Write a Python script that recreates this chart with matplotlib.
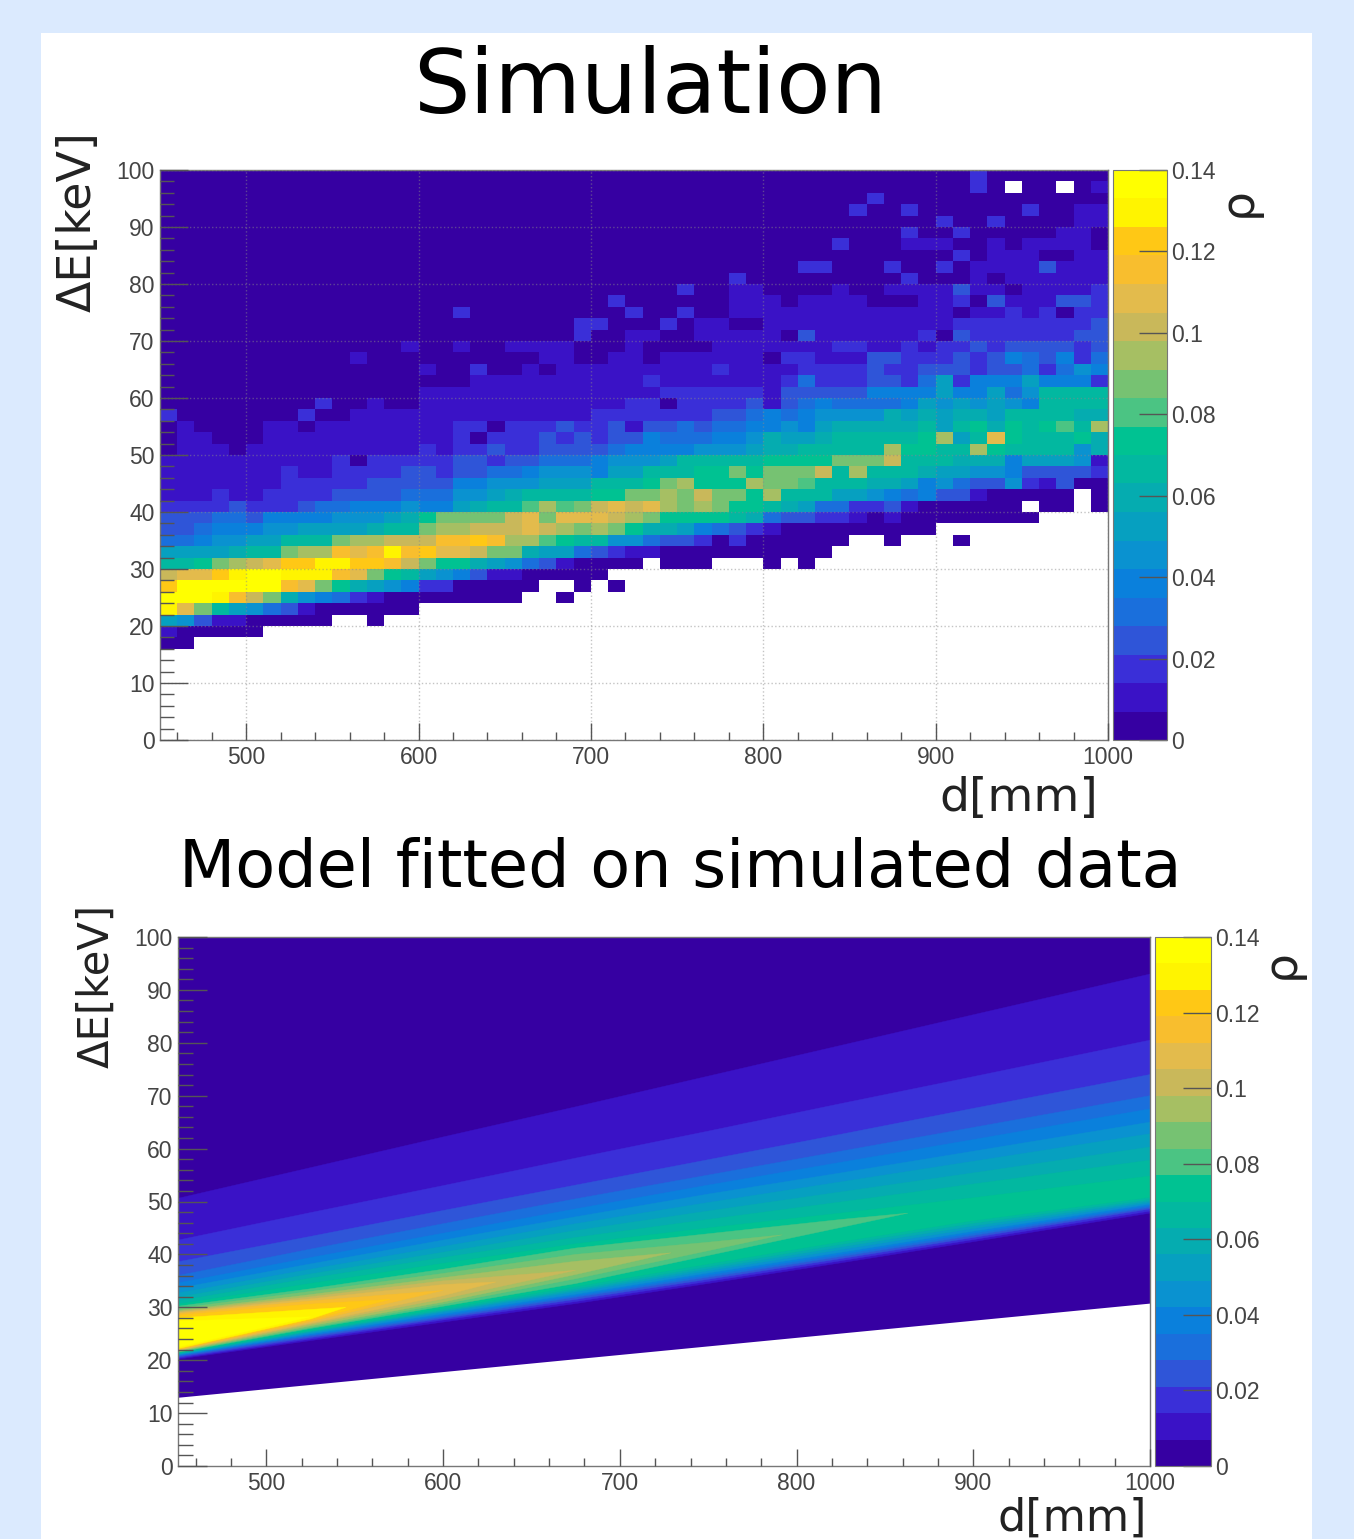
import numpy as np
import matplotlib
matplotlib.use("Agg")
import matplotlib.pyplot as plt
from matplotlib.colors import ListedColormap, Normalize
from matplotlib.patches import Rectangle
from matplotlib.ticker import MultipleLocator

W, H = 1354, 1539

# palette of the 20 colour bands, bottom to top
band_colors = ["#3600a2", "#3a12c6", "#3a2fd8", "#2f55d8", "#1a6fdc", "#0a80dc",
               "#0a92d0", "#06a0c0", "#05acb0", "#02b8a0", "#00c292", "#4bc483",
               "#76c272", "#a6bf63", "#c9b85a", "#e3bb4c", "#f8be2e", "#ffc815",
               "#fff400", "#ffff00"]
z_max = 0.14
cbar_ticks = [0, 0.02, 0.04, 0.06, 0.08, 0.1, 0.12, 0.14]
cbar_labels = ["0", "0.02", "0.04", "0.06", "0.08", "0.1", "0.12", "0.14"]

# simulation histogram: band index per bin, 55 columns (450-1000, 10 mm),
# rows from 100 keV down in 2 keV steps, "." is an empty bin
sim_rows = [
    "000000000000000000 000000000000000000 0000000000020000000",
    "000000000000000000 000000000000000000 00000000000 20.00.01",
    "000000000000000000 000000000000000000 0000020000000000000",
    "000000000000000000 000000000000000000 0000200200000020011",
    "000000000000000000 000000000000000000 0000000002002000011",
    "000000000000000000 000000000000000000 0000000200200000110",
    "000000000000000000 000000000000000000 0002000111001011110",
    "000000000000000000 000000000000000000 0000000000201110011",
    "000000000000000000 000000000000000000 0220002002011113111",
    "000000000000000000 000000000000000200 0000000200010111111",
    "000000000000000000 000000000000200110 0001001111311011112",
    "000000000000000000 000000002000000111 0111100011203111332",
    "000000000000000002 000000000200200111 1111111111011212022",
    "000000000000000000 000000220002011001 1111111111222222223",
    "000000000000000000 000000200110011111 0311111120322222233",
    "000000000000001001 001111000100001111 1112211212232333323",
    "000000000001000000 000011001101111110 2211133222323543524",
    "000000000000000100 200101111111112111 1222232233323342465",
    "000000000000000000 111111111121111111 2422233247255575552",
    "000000000000000111 111111111112222221 3333355557557469999",
    "000000000200100111 111111111220222231 3454444576767659999",
    "200000002001111111 111111122222223345 4566668787887999988",
    "010000110111111112 202223223133434455 65788888979a8a9ab9d",
    "011000111111111112 022232323354445568 77899999ad79fa999a8",
    "011101111111111212 232233334555566678 899999daa99da999968",
    "111111111120222223 32334445666799999a aaaccce999888577761",
    "111111121122223323 3445666577999aacac cce9d99987766533332",
    "111111122222333335 5666777999acdaaadc cb99988756433621300",
    "111211222233334446 6789999aaccdceccad 9997765453310000 0.0",
    "222232223445556557 899bdbcefefdcdcaa9 87442231000000.00.0",
    "333443555566678acc ccefcfffedcaaaa984 332210100000000",
    "334555667777899cdd eeefedcdca88754321 000000000",
    "4456677999cddeeegg hgddba996643320200 0000..0...0",
    "7777899cddgfgighff ecc877432110000000 000",
    "99acdefhhiihhgecaa 8764310000.000...0 .0",
    "effhijjiiigfca9765 31100000",
    "hjjjjjjgfca8765220 0000..0.0",
    "jjjigec86542100000 000..0",
    "ifc976431000000",
    "7631100000..0",
    "100000",
    "00",
]
band_codes = "0123456789abcdefghij"

# fitted model: outline of each band read at these d values (keV)
model_d = [450, 525, 600, 675, 750, 825, 900, 1000]
model_floor_d = [450, 1000]
model_floor_e = [13.0, 30.8]
model_upper = [
    [50.6, 56.4, 62.2, 67.9, 73.7, 79.5, 85.3, 93.0],
    [42.7, 47.9, 53.0, 58.2, 63.3, 68.5, 73.6, 80.5],
    [38.6, 43.4, 48.3, 53.1, 57.9, 62.7, 67.6, 74.0],
    [36.0, 41.0, 45.8, 50.5, 55.0, 59.5, 64.0, 70.0],
    [34.6, 39.4, 44.0, 48.6, 53.1, 57.4, 61.7, 67.5],
    [33.6, 38.2, 42.7, 47.1, 51.4, 55.4, 59.5, 65.0],
    [32.7, 37.2, 41.5, 45.8, 49.8, 53.7, 57.6, 62.8],
    [31.9, 36.3, 40.4, 44.5, 48.2, 51.8, 55.4, 60.3],
    [31.2, 35.5, 39.4, 43.2, 46.6, 49.9, 53.3, 57.8],
    [30.6, 34.5, 38.3, 42.0, 45.0, 47.8, 50.7, 54.8],
    [30.2, 33.5, 37.2, 41.2, 43.9, 46.6],
    [29.8, 33.0, 36.4, 40.0, 42.3],
    [29.4, 32.4, 35.6, 38.7],
    [29.2, 32.0, 35.0],
    [29.0, 31.6, 34.3],
    [28.8, 31.2],
    [28.5, 30.6],
    [28.0, 29.6],
    [27.4],
]
model_lower = [
    [20.2, 23.7, 27.2, 30.7, 34.5, 38.4, 42.4, 47.8],
    [20.4, 24.0, 27.6, 31.1, 34.9, 38.8, 42.8, 48.2],
    [20.6, 24.3, 27.9, 31.5, 35.3, 39.2, 43.2, 48.6],
    [20.8, 24.6, 28.2, 31.9, 35.7, 39.6, 43.6, 48.9],
    [20.9, 24.8, 28.5, 32.2, 36.1, 40.0, 44.0, 49.2],
    [21.0, 25.0, 28.8, 32.5, 36.5, 40.4, 44.4, 49.5],
    [21.1, 25.2, 29.1, 32.9, 36.9, 40.9, 44.9, 49.8],
    [21.2, 25.4, 29.3, 33.2, 37.3, 41.4, 45.4, 50.1],
    [21.3, 25.5, 29.5, 33.5, 37.7, 41.9, 45.9, 50.4],
    [21.4, 25.7, 29.8, 33.9, 38.2, 42.4, 46.4, 50.8],
    [21.5, 26.0, 30.2, 34.5, 39.8, 45.1],
    [21.6, 26.2, 30.6, 35.4, 40.7],
    [21.7, 26.5, 31.0, 36.2],
    [21.8, 26.8, 31.6],
    [21.9, 27.0, 32.2],
    [22.0, 27.3],
    [22.1, 27.6],
    [22.2, 27.8],
    [22.5],
]
# where the closed bands end on the ridge, None runs on to the right edge
model_tip_d = [None] * 10 + [863, 792, 729, 675, 630, 600, 570, 545, 525]
model_tip_e = [None] * 10 + [47.8, 43.7, 40.3, 37.0, 34.8, 33.2, 31.5, 30.0, 28.2]


def px_axes(fig, left, top, right, bottom):
    return fig.add_axes([left / W, 1 - bottom / H, (right - left) / W, (bottom - top) / H])


def style_axes(ax, ylen):
    ax.set_xlim(450, 1000)
    ax.set_ylim(0, 100)
    ax.xaxis.set_major_locator(MultipleLocator(100))
    ax.xaxis.set_minor_locator(MultipleLocator(20))
    ax.yaxis.set_major_locator(MultipleLocator(10))
    ax.yaxis.set_minor_locator(MultipleLocator(2))
    ax.tick_params(axis="x", which="major", direction="in", length=12, width=1, color="#555555",
                   labelsize=16.5, labelcolor="#444444", pad=4)
    ax.tick_params(axis="x", which="minor", direction="in", length=6, width=1, color="#555555")
    ax.tick_params(axis="y", which="major", direction="in", length=ylen, width=1, color="#555555",
                   labelsize=16.5, labelcolor="#444444", pad=4)
    ax.tick_params(axis="y", which="minor", direction="in", length=ylen / 2, width=1, color="#555555")
    for s in ax.spines.values():
        s.set_color("#777777")
        s.set_linewidth(1.0)
    ax.set_axisbelow(False)


def add_colorbar(fig, mappable, left, top, right, bottom):
    cax = px_axes(fig, left, top, right, bottom)
    cb = fig.colorbar(mappable, cax=cax)
    cb.set_ticks(cbar_ticks)
    cb.set_ticklabels(cbar_labels)
    cb.outline.set_edgecolor("#777777")
    cax.tick_params(axis="y", direction="in", length=20, width=1, color="#555555",
                    labelsize=16.5, labelcolor="#444444", pad=3)
    cax.minorticks_off()
    return cax


plt.rcParams["font.family"] = ["Liberation Sans", "DejaVu Sans"]
fig = plt.figure(figsize=(W / 100, H / 100), dpi=100, facecolor="#dbeafe")
fig.add_artist(Rectangle((41 / W, 0), (1312 - 41) / W, 1 - 33 / H, transform=fig.transFigure,
                         facecolor="white", edgecolor="none", zorder=-5))

cmap = ListedColormap(band_colors)
norm = Normalize(0, z_max)

# Simulation
ax1 = px_axes(fig, 160, 170, 1108, 740)
x_edges = np.arange(450, 1001, 10)
y_edges = np.arange(0, 101, 2)
z = np.full((50, 55), np.nan)
for j, row in enumerate(sim_rows):
    for i, c in enumerate(row.replace(" ", "")):
        if c != ".":
            z[49 - j, i] = (band_codes.index(c) + 0.5) * z_max / len(band_colors)
mesh = ax1.pcolormesh(x_edges, y_edges, np.ma.masked_invalid(z), cmap=cmap, norm=norm, zorder=1)
ax1.grid(True, which="major", color="#8a8a8a", linestyle=":", linewidth=1.0, alpha=0.5, zorder=2)
style_axes(ax1, 20)
add_colorbar(fig, mesh, 1113, 170, 1167, 740)

# Model
ax2 = px_axes(fig, 178, 937, 1150, 1466)
floor = np.interp(model_d, model_floor_d, model_floor_e)
ax2.fill_between(model_d, floor, 100, color=band_colors[0], linewidth=0, zorder=1)
for k, (up, lo) in enumerate(zip(model_upper, model_lower)):
    d = model_d[:len(up)]
    xs, ys = list(d), list(up)
    if model_tip_d[k] is not None:
        xs.append(model_tip_d[k])
        ys.append(model_tip_e[k])
    xs += d[::-1]
    ys += lo[::-1]
    ax2.fill(xs, ys, color=band_colors[k + 1], linewidth=0.3, zorder=1 + k / 100)
style_axes(ax2, 21)
add_colorbar(fig, mesh, 1155, 937, 1211, 1466)

# Titles and axis names
def put(px, py, s, size, **kw):
    fig.text(px / W, 1 - py / H, s, fontsize=size, family="DejaVu Sans", **kw)

put(650, 89, "Simulation", 64, ha="center", va="center", color="black")
put(680, 869, "Model fitted on simulated data", 47, ha="center", va="center", color="black")
put(78, 222, "ΔE[keV]", 33, ha="center", va="center", rotation=90, color="#222222")
put(96, 986, "ΔE[keV]", 30, ha="center", va="center", rotation=90, color="#222222")
put(1019, 798, "d[mm]", 34, ha="center", va="center", color="#222222")
put(1072, 1518, "d[mm]", 32, ha="center", va="center", color="#222222")
put(1238, 202, "ρ", 34, ha="center", va="center", rotation=90, color="#222222")
put(1281, 964, "ρ", 34, ha="center", va="center", rotation=90, color="#222222")

fig.savefig("out.png", dpi=100, facecolor=fig.get_facecolor())
